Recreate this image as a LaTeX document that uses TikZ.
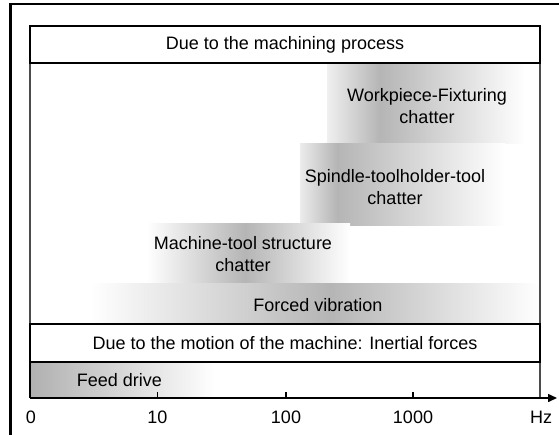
\documentclass[tikz,border=0pt]{standalone}
\usepackage{fontspec}
\setmainfont{Liberation Sans}
\usetikzlibrary{arrows.meta}
\begin{document}
\begin{tikzpicture}[x=1pt,y=-1pt,
  lbl/.style={inner sep=0pt,align=center,font=\fontsize{18}{22}\selectfont},
  boxline/.style={draw=black,line width=1.3pt},
  sideline/.style={draw=black!70,line width=1.3pt},
  band/.style={draw=none}]
\useasboundingbox (0,0) rectangle (559,434);
\clip (0,0) rectangle (559,434);
% outer frame
\draw[line width=2.6pt] (10.5,450) |- (600,4);
% gradient bands
\shade[band,left color=gray!12,right color=gray!58] (327,63) rectangle (380,143);
\shade[band,left color=gray!58,right color=white] (380,63) rectangle (525,143);
\shade[band,left color=gray!15,right color=gray!58] (300,143) rectangle (337,225);
\shade[band,left color=gray!58,right color=white] (337,143) rectangle (505,225);
\shade[band,left color=white,right color=gray!58] (147,223) rectangle (245,283);
\shade[band,left color=gray!58,right color=white] (245,223) rectangle (350,283);
\shade[band,left color=white,right color=gray!58] (90,283) rectangle (330,324);
\shade[band,left color=gray!58,right color=white] (330,283) rectangle (540,324);
\shade[band,left color=gray!62,right color=white] (30,362) rectangle (215,398);
% frames
\draw[sideline] (30,63) -- (30,398);
\draw[sideline] (540,63) -- (540,398);
\draw[boxline] (30,26) rectangle (540,63);
\draw[boxline] (30,324) rectangle (540,362);
\draw[boxline] (30,362) -- (30,398);
% axis
\coordinate (a0) at (30,398);
\coordinate (a1) at (557,398);
\draw[line width=1.5pt,-{Triangle[length=9pt,width=8pt]}] (a0) -- (a1);
\foreach \x in {157.5,286,413}{\draw[line width=1.2pt] (\x,398) -- (\x,392);}
% texts
\node[lbl] (hdr) at (285,44.5) {Due to the machining process};
\node[lbl] (wf) at (427,106) {Workpiece-Fixturing\\chatter};
\node[lbl] (st) at (395,187) {Spindle-toolholder-tool\\chatter};
\node[lbl] (mt) at (243,254) {Machine-tool structure\\chatter};
\node[lbl] (fv) at (318,305) {Forced vibration};
\node[lbl] (mo) at (285,343) {Due to the motion of the machine: Inertial forces};
\node[lbl] (fd) at (119.5,380) {Feed drive};
\node[lbl] (t0) at (31,417) {0};
\node[lbl] (t1) at (157.5,417) {10};
\node[lbl] (t2) at (286,417) {100};
\node[lbl] (t3) at (413,417) {1000};
\node[lbl] (hz) at (541,417) {Hz};
\end{tikzpicture}
\end{document}
